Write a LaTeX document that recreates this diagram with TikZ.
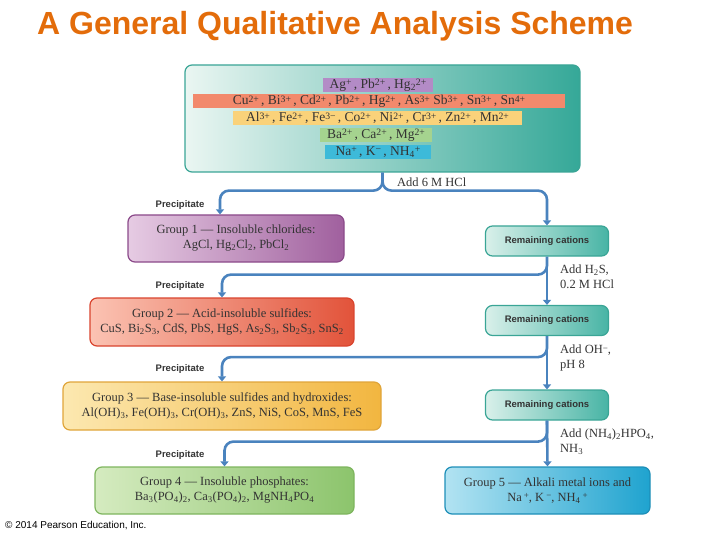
\documentclass[tikz,border=0pt]{standalone}
\usepackage{fontspec}
\setmainfont{Liberation Serif}
\setsansfont{Liberation Sans}
\usetikzlibrary{arrows.meta, positioning, calc}

\definecolor{titleorange}{HTML}{E36C0A}
\definecolor{textgray}{HTML}{333333}
\definecolor{flowblue}{HTML}{4A83BE}
\definecolor{tealedge}{HTML}{3AA596}
\definecolor{topL}{HTML}{EAF6F2}
\definecolor{topM}{HTML}{C5E7DE}
\definecolor{topR}{HTML}{35A898}
\definecolor{remL}{HTML}{D9F0EA}
\definecolor{remR}{HTML}{48B4A5}
\definecolor{bandpurple}{HTML}{B38BC6}
\definecolor{bandred}{HTML}{F2896C}
\definecolor{bandyellow}{HTML}{FAD27A}
\definecolor{bandgreen}{HTML}{A5D38F}
\definecolor{bandblue}{HTML}{3DBAD9}
\definecolor{gonL}{HTML}{E6CBE3}
\definecolor{gonR}{HTML}{A0609E}
\definecolor{gonE}{HTML}{8B4A8A}
\definecolor{gtwL}{HTML}{FBC3B3}
\definecolor{gtwR}{HTML}{E2533A}
\definecolor{gtwE}{HTML}{D9442E}
\definecolor{gthL}{HTML}{FCE8B0}
\definecolor{gthR}{HTML}{F2B640}
\definecolor{gthE}{HTML}{E0A53A}
\definecolor{gfoL}{HTML}{D5EBC0}
\definecolor{gfoR}{HTML}{8CC46C}
\definecolor{gfoE}{HTML}{7EB55E}
\definecolor{gfiL}{HTML}{B2E3F2}
\definecolor{gfiR}{HTML}{1FA3CF}
\definecolor{gfiE}{HTML}{1E8FB8}

\newcommand{\sps}[1]{\raisebox{0.22em}{\scalebox{0.72}{#1}}}
\newcommand{\sbs}[1]{\textsubscript{#1}}

\begin{document}
\begin{tikzpicture}
  [x=1pt,y=-1pt,
   box/.style={draw,rounded corners=7pt,line width=1.2pt,text=textgray,align=center,inner sep=0pt},
   band/.style={inner sep=0pt,minimum height=14pt,text height=10pt,text depth=3pt,text=textgray,
     font=\fontsize{13.5}{14}\selectfont},
   remain/.style={box,draw=tealedge,left color=remL,right color=remR,minimum width=123pt,
     minimum height=30pt,font=\sffamily\bfseries\fontsize{9.5}{11}\selectfont},
   group/.style={box,font=\fontsize{12.5}{15}\selectfont},
   flow/.style={draw=flowblue,line width=2.6pt,rounded corners=9pt,-{Triangle[length=5pt,width=8pt]}},
   note/.style={font=\fontsize{12.5}{15}\selectfont,align=left,anchor=north west,text=textgray,inner sep=0pt},
   prec/.style={font=\sffamily\bfseries\fontsize{9.5}{11}\selectfont,text=textgray,inner sep=0pt}]
  \useasboundingbox (0,0) rectangle (720,540);

  \node[anchor=base west,inner sep=0pt,text=titleorange,
    font=\sffamily\bfseries\fontsize{32}{35}\selectfont] (title) at (37,35)
    {A General Qualitative Analysis Scheme};

  % mixture of all cations
  \node[box,draw=tealedge,left color=topL,middle color=topM,right color=topR,
    minimum width=395pt,minimum height=107pt] (top) at (382.5,118.5) {};
  \node[band,fill=bandpurple,minimum width=110pt] (ag) at (378,85)
    {Ag\sps{+}\,, Pb\sps{2+}\,, Hg\sbs{2}\sps{2+}};
  \node[band,fill=bandred,minimum width=372pt] (cu) at (379,101.5)
    {Cu\sps{2+}\,, Bi\sps{3+}\,, Cd\sps{2+}\,, Pb\sps{2+}\,, Hg\sps{2+}\,, As\sps{3+} Sb\sps{3+}\,, Sn\sps{3+}\,, Sn\sps{4+}};
  \node[band,fill=bandyellow,minimum width=289pt] (al) at (377.5,118.5)
    {Al\sps{3+}\,, Fe\sps{2+}\,, Fe\sps{3−}\,, Co\sps{2+}\,, Ni\sps{2+}\,, Cr\sps{3+}\,, Zn\sps{2+}\,, Mn\sps{2+}};
  \node[band,fill=bandgreen,minimum width=112pt] (ba) at (376,135)
    {Ba\sps{2+}\,, Ca\sps{2+}\,, Mg\sps{2+}};
  \node[band,fill=bandblue,minimum width=106pt] (na) at (378,152)
    {Na\sps{+}\,, K\sps{−}\,, NH\sbs{4}\sps{+}};

  % precipitated groups
  \node[group,draw=gonE,left color=gonL,right color=gonR,minimum width=216pt,minimum height=47pt]
    (g1) at (236,238.5) {Group 1 --- Insoluble chlorides:\\AgCl, Hg\sbs{2}Cl\sbs{2}, PbCl\sbs{2}};
  \node[group,draw=gtwE,left color=gtwL,right color=gtwR,minimum width=264pt,minimum height=48pt]
    (g2) at (222,322) {Group 2 --- Acid-insoluble sulfides:\\CuS, Bi\sbs{2}S\sbs{3}, CdS, PbS, HgS, As\sbs{2}S\sbs{3}, Sb\sbs{2}S\sbs{3}, SnS\sbs{2}};
  \node[group,draw=gthE,left color=gthL,right color=gthR,minimum width=318pt,minimum height=48pt]
    (g3) at (222,406) {Group 3 --- Base-insoluble sulfides and hydroxides:\\Al(OH)\sbs{3}, Fe(OH)\sbs{3}, Cr(OH)\sbs{3}, ZnS, NiS, CoS, MnS, FeS};
  \node[group,draw=gfoE,left color=gfoL,right color=gfoR,minimum width=259pt,minimum height=47pt]
    (g4) at (224.5,490.5) {Group 4 --- Insoluble phosphates:\\Ba\sbs{3}(PO\sbs{4})\sbs{2}, Ca\sbs{3}(PO\sbs{4})\sbs{2}, MgNH\sbs{4}PO\sbs{4}};
  \node[group,draw=gfiE,left color=gfiL,right color=gfiR,minimum width=205pt,minimum height=47pt]
    (g5) at (547.5,490.5) {Group 5 --- Alkali metal ions and\\Na\,\sps{+}, K\,\sps{−}, NH\sbs{4}\,\sps{+}};

  % remaining cations
  \node[remain] (r1) at (547,241)   {Remaining cations};
  \node[remain] (r2) at (547,320.5) {Remaining cations};
  \node[remain] (r3) at (547,405)   {Remaining cations};

  % reagents and precipitates
  \node[note,anchor=west] (hcl) at (397,182) {Add 6 M HCl};
  \node[note] (hs)  at (560,265) {Add H\sbs{2}S,\\0.2 M HCl};
  \node[note] (oh)  at (560,345) {Add OH\sps{−},\\pH 8};
  \node[note] (hpo) at (560,429) {Add (NH\sbs{4})\sbs{2}HPO\sbs{4},\\NH\sbs{3}};
  \node[prec] (p1) at (180,205) {Precipitate};
  \node[prec] (p2) at (180,286) {Precipitate};
  \node[prec] (p3) at (180,369) {Precipitate};
  \node[prec] (p4) at (180,455) {Precipitate};

  \node[anchor=west,inner sep=0pt,font=\sffamily\fontsize{10}{12}\selectfont] (copy) at (5,526)
    {© 2014 Pearson Education, Inc.};

  \draw[flow] (top.south) -- ++(0,18) -| ([xshift=-16pt]g1.north);
  \draw[flow] (top.south) -- ++(0,18) -| (r1.north);
  \draw[flow] (r1.south) -- ++(0,18) -| (g2.north);
  \draw[flow] (r1.south) -- (r2.north);
  \draw[flow] (r2.south) -- ++(0,21) -| (g3.north);
  \draw[flow] (r2.south) -- (r3.north);
  \draw[flow] (r3.south) -- ++(0,21) -| (g4.north);
  \draw[flow] (r3.south) -- (g5.north);
\end{tikzpicture}
\end{document}
